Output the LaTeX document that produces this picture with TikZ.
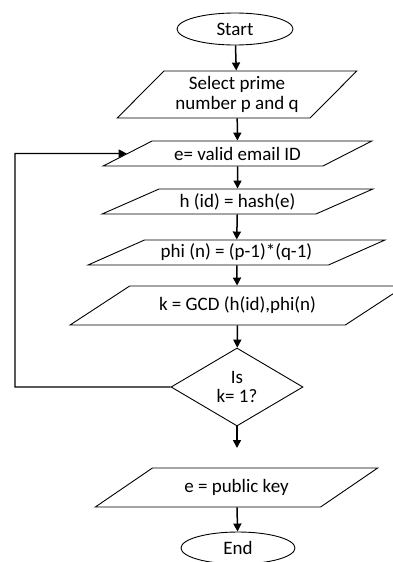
\documentclass[tikz,border=0pt]{standalone}
\usepackage{fontspec}
\setmainfont{Carlito}
\usetikzlibrary{shapes.geometric,arrows.meta}

\begin{document}
\begin{tikzpicture}[x=1pt,y=-1pt]

      \useasboundingbox (0,0) rectangle (392,562);

      \begin{scope}[every node/.style={draw, line width=.9pt, align=center,
          font=\fontsize{19}{19.5}\selectfont, inner sep=2pt},
          term/.style={ellipse},
          io/.style={trapezium, trapezium stretches=true,
            trapezium left angle=#1, trapezium right angle=180-#1},
          decision/.style={diamond, aspect=1.7}]
        \node[term, minimum width=116, minimum height=32] (1) at (235,29) {Start};
        \node[io=44.4, minimum width=240, minimum height=47] (2) at (237,94.5) {Select prime\\number p and q};
        \node[io=24.8, minimum width=269, minimum height=25] (3) at (237.5,153.5) {e= valid email ID};
        \node[io=25.3, minimum width=271, minimum height=25] (4) at (237.5,201.5) {h (id) = hash(e)};
        \node[io=23.7, minimum width=297, minimum height=25] (5) at (236.5,252.5) {phi (n) = (p-1)*(q-1)};
        \node[io=25.2, minimum width=335, minimum height=39] (6) at (237.5,305.5) {k = GCD (h(id),phi(n)};
        \node[decision, minimum width=132, minimum height=78, inner sep=0pt] (7) at (237,387) {Is\\k= 1?};
        \node[io=28.8, minimum width=283, minimum height=39] (8) at (236.5,487.5) {e = public key};
        \node[term, minimum width=114, minimum height=32] (9) at (238,548) {End};
      \end{scope}

      \coordinate (10) at (237,448);
      \coordinate (11) at (15,153.5);

      \begin{scope}[every edge/.style={draw, line width=1.5pt,
          -{Triangle[length=8pt,width=8pt]}}]
        \path (1) edge (2);
        \path (2) edge (3);
        \path (3) edge (4);
        \path (4) edge (5);
        \path (5) edge (6);
        \path (6) edge (7);
        \path (7) edge (10);
        \path (8) edge (9);
      \end{scope}

      % loop back when k is not 1
      \draw[line width=1.2pt, -{Triangle[length=8pt,width=8pt]}] (7.west) -| (11) -- (3.west);

    \end{tikzpicture}
\end{document}
